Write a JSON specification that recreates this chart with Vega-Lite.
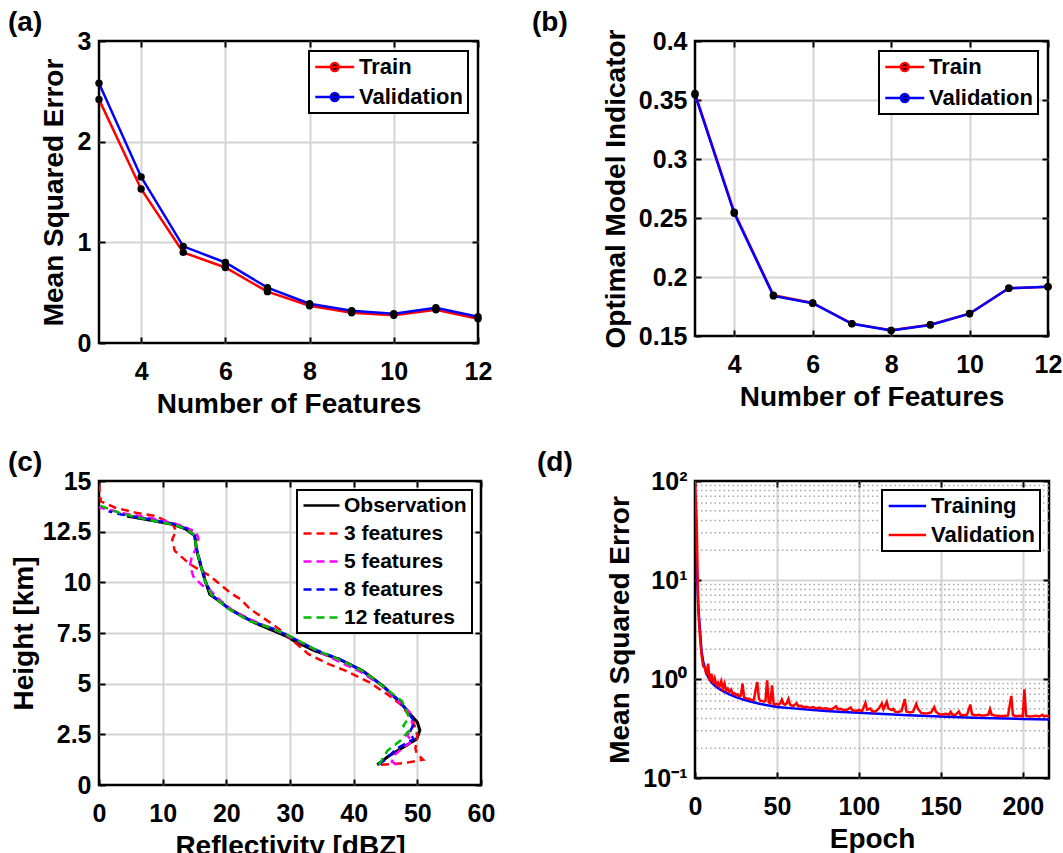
{
  "$schema": "https://vega.github.io/schema/vega-lite/v6.json",
  "background": "#ffffff",
  "padding": {"left": 6, "top": 7, "right": 0, "bottom": 0},
  "columns": 2,
  "bounds": "flush",
  "spacing": {"row": 138, "column": 214},
  "resolve": {
    "scale": {"x": "independent", "y": "independent", "color": "independent", "strokeDash": "independent"},
    "legend": {"color": "independent", "strokeDash": "independent"}
  },
  "datasets": {
    "selection": [
      {"n": 3, "set": "Train", "mse": 2.42}, {"n": 4, "set": "Train", "mse": 1.53}, {"n": 5, "set": "Train", "mse": 0.9},
      {"n": 6, "set": "Train", "mse": 0.75}, {"n": 7, "set": "Train", "mse": 0.51}, {"n": 8, "set": "Train", "mse": 0.37},
      {"n": 9, "set": "Train", "mse": 0.3}, {"n": 10, "set": "Train", "mse": 0.275}, {"n": 11, "set": "Train", "mse": 0.33},
      {"n": 12, "set": "Train", "mse": 0.24},
      {"n": 3, "set": "Validation", "mse": 2.58}, {"n": 4, "set": "Validation", "mse": 1.65}, {"n": 5, "set": "Validation", "mse": 0.96},
      {"n": 6, "set": "Validation", "mse": 0.8}, {"n": 7, "set": "Validation", "mse": 0.55}, {"n": 8, "set": "Validation", "mse": 0.39},
      {"n": 9, "set": "Validation", "mse": 0.32}, {"n": 10, "set": "Validation", "mse": 0.29}, {"n": 11, "set": "Validation", "mse": 0.35},
      {"n": 12, "set": "Validation", "mse": 0.26}
    ],
    "indicator": [
      {"n": 3, "set": "Train", "omi": 0.3555}, {"n": 4, "set": "Train", "omi": 0.255}, {"n": 5, "set": "Train", "omi": 0.1845},
      {"n": 6, "set": "Train", "omi": 0.178}, {"n": 7, "set": "Train", "omi": 0.1605}, {"n": 8, "set": "Train", "omi": 0.1548},
      {"n": 9, "set": "Train", "omi": 0.1595}, {"n": 10, "set": "Train", "omi": 0.169}, {"n": 11, "set": "Train", "omi": 0.1905},
      {"n": 12, "set": "Train", "omi": 0.1918},
      {"n": 3, "set": "Validation", "omi": 0.3545}, {"n": 4, "set": "Validation", "omi": 0.254}, {"n": 5, "set": "Validation", "omi": 0.184},
      {"n": 6, "set": "Validation", "omi": 0.1778}, {"n": 7, "set": "Validation", "omi": 0.1603}, {"n": 8, "set": "Validation", "omi": 0.1546},
      {"n": 9, "set": "Validation", "omi": 0.1594}, {"n": 10, "set": "Validation", "omi": 0.1689}, {"n": 11, "set": "Validation", "omi": 0.1905},
      {"n": 12, "set": "Validation", "omi": 0.1917}
    ],
    "profiles": [
      {"model": "Observation", "dbz": 43.7, "h": 1.0}, {"model": "Observation", "dbz": 45.6, "h": 1.45}, {"model": "Observation", "dbz": 47.8, "h": 1.86},
      {"model": "Observation", "dbz": 49.9, "h": 2.27}, {"model": "Observation", "dbz": 50.4, "h": 2.7}, {"model": "Observation", "dbz": 50.0, "h": 3.1},
      {"model": "Observation", "dbz": 49.1, "h": 3.42}, {"model": "Observation", "dbz": 47.3, "h": 4.07}, {"model": "Observation", "dbz": 44.6, "h": 4.89},
      {"model": "Observation", "dbz": 41.4, "h": 5.64}, {"model": "Observation", "dbz": 37.7, "h": 6.21}, {"model": "Observation", "dbz": 33.9, "h": 6.62},
      {"model": "Observation", "dbz": 30.7, "h": 7.1}, {"model": "Observation", "dbz": 29.7, "h": 7.3}, {"model": "Observation", "dbz": 28.1, "h": 7.52},
      {"model": "Observation", "dbz": 24.4, "h": 8.01}, {"model": "Observation", "dbz": 20.6, "h": 8.67}, {"model": "Observation", "dbz": 18.5, "h": 9.16},
      {"model": "Observation", "dbz": 17.4, "h": 9.41}, {"model": "Observation", "dbz": 16.6, "h": 10.15}, {"model": "Observation", "dbz": 15.85, "h": 10.97},
      {"model": "Observation", "dbz": 15.3, "h": 11.63}, {"model": "Observation", "dbz": 15.05, "h": 12.29}, {"model": "Observation", "dbz": 13.7, "h": 12.62},
      {"model": "Observation", "dbz": 11.6, "h": 12.86}, {"model": "Observation", "dbz": 7.3, "h": 13.11}, {"model": "Observation", "dbz": 4.4, "h": 13.27},

      {"model": "3 features", "dbz": 44.3, "h": 1.0}, {"model": "3 features", "dbz": 46.2, "h": 1.03}, {"model": "3 features", "dbz": 48.3, "h": 1.1},
      {"model": "3 features", "dbz": 50.9, "h": 1.25}, {"model": "3 features", "dbz": 49.9, "h": 1.55}, {"model": "3 features", "dbz": 49.7, "h": 1.8},
      {"model": "3 features", "dbz": 49.9, "h": 2.25}, {"model": "3 features", "dbz": 50.0, "h": 2.45}, {"model": "3 features", "dbz": 49.4, "h": 3.1},
      {"model": "3 features", "dbz": 48.3, "h": 3.6}, {"model": "3 features", "dbz": 47.3, "h": 4.0}, {"model": "3 features", "dbz": 45.6, "h": 4.4},
      {"model": "3 features", "dbz": 42.5, "h": 5.06}, {"model": "3 features", "dbz": 38.7, "h": 5.64}, {"model": "3 features", "dbz": 36.1, "h": 5.96},
      {"model": "3 features", "dbz": 32.9, "h": 6.46}, {"model": "3 features", "dbz": 30.8, "h": 7.03}, {"model": "3 features", "dbz": 29.3, "h": 7.45},
      {"model": "3 features", "dbz": 27.4, "h": 7.9}, {"model": "3 features", "dbz": 25.3, "h": 8.35}, {"model": "3 features", "dbz": 23.8, "h": 8.67},
      {"model": "3 features", "dbz": 22.2, "h": 9.17}, {"model": "3 features", "dbz": 20.6, "h": 9.49}, {"model": "3 features", "dbz": 17.4, "h": 10.32},
      {"model": "3 features", "dbz": 14.3, "h": 10.89}, {"model": "3 features", "dbz": 11.9, "h": 11.55}, {"model": "3 features", "dbz": 11.5, "h": 12.12},
      {"model": "3 features", "dbz": 12.1, "h": 12.53}, {"model": "3 features", "dbz": 11.6, "h": 12.86}, {"model": "3 features", "dbz": 8.9, "h": 13.27},
      {"model": "3 features", "dbz": 5.75, "h": 13.44}, {"model": "3 features", "dbz": 2.55, "h": 13.68}, {"model": "3 features", "dbz": 0.3, "h": 14.0},
      {"model": "3 features", "dbz": 0.1, "h": 14.4}, {"model": "3 features", "dbz": 0.0, "h": 15.0},

      {"model": "5 features", "dbz": 46.8, "h": 1.0}, {"model": "5 features", "dbz": 46.0, "h": 1.15}, {"model": "5 features", "dbz": 46.5, "h": 1.5},
      {"model": "5 features", "dbz": 48.0, "h": 1.9}, {"model": "5 features", "dbz": 49.2, "h": 2.15}, {"model": "5 features", "dbz": 48.4, "h": 2.45},
      {"model": "5 features", "dbz": 49.3, "h": 2.9}, {"model": "5 features", "dbz": 48.8, "h": 3.6}, {"model": "5 features", "dbz": 46.8, "h": 4.2},
      {"model": "5 features", "dbz": 44.2, "h": 4.95}, {"model": "5 features", "dbz": 41.0, "h": 5.6}, {"model": "5 features", "dbz": 37.6, "h": 6.1},
      {"model": "5 features", "dbz": 33.8, "h": 6.7}, {"model": "5 features", "dbz": 30.0, "h": 7.3}, {"model": "5 features", "dbz": 27.3, "h": 7.7},
      {"model": "5 features", "dbz": 24.3, "h": 8.1}, {"model": "5 features", "dbz": 21.0, "h": 8.6}, {"model": "5 features", "dbz": 18.7, "h": 9.2},
      {"model": "5 features", "dbz": 17.5, "h": 9.6}, {"model": "5 features", "dbz": 16.2, "h": 9.85}, {"model": "5 features", "dbz": 14.8, "h": 10.3},
      {"model": "5 features", "dbz": 14.3, "h": 10.85}, {"model": "5 features", "dbz": 14.6, "h": 11.3}, {"model": "5 features", "dbz": 15.5, "h": 11.8},
      {"model": "5 features", "dbz": 15.6, "h": 12.2}, {"model": "5 features", "dbz": 15.2, "h": 12.5}, {"model": "5 features", "dbz": 12.5, "h": 12.85},
      {"model": "5 features", "dbz": 8.5, "h": 13.15}, {"model": "5 features", "dbz": 4.0, "h": 13.4}, {"model": "5 features", "dbz": 0.0, "h": 13.7},

      {"model": "8 features", "dbz": 43.9, "h": 1.0}, {"model": "8 features", "dbz": 45.1, "h": 1.28}, {"model": "8 features", "dbz": 46.7, "h": 1.78},
      {"model": "8 features", "dbz": 49.4, "h": 2.27}, {"model": "8 features", "dbz": 48.8, "h": 2.6}, {"model": "8 features", "dbz": 49.6, "h": 3.09},
      {"model": "8 features", "dbz": 48.2, "h": 3.75}, {"model": "8 features", "dbz": 46.7, "h": 4.3}, {"model": "8 features", "dbz": 44.3, "h": 4.95},
      {"model": "8 features", "dbz": 41.2, "h": 5.65}, {"model": "8 features", "dbz": 37.9, "h": 6.2}, {"model": "8 features", "dbz": 34.2, "h": 6.65},
      {"model": "8 features", "dbz": 30.2, "h": 7.3}, {"model": "8 features", "dbz": 27.5, "h": 7.7}, {"model": "8 features", "dbz": 24.2, "h": 8.05},
      {"model": "8 features", "dbz": 20.8, "h": 8.6}, {"model": "8 features", "dbz": 18.0, "h": 9.3}, {"model": "8 features", "dbz": 16.9, "h": 9.9},
      {"model": "8 features", "dbz": 16.0, "h": 10.9}, {"model": "8 features", "dbz": 15.3, "h": 11.7}, {"model": "8 features", "dbz": 15.0, "h": 12.3},
      {"model": "8 features", "dbz": 13.8, "h": 12.65}, {"model": "8 features", "dbz": 11.5, "h": 12.9}, {"model": "8 features", "dbz": 7.2, "h": 13.15},
      {"model": "8 features", "dbz": 3.5, "h": 13.35}, {"model": "8 features", "dbz": 1.5, "h": 13.5},

      {"model": "12 features", "dbz": 43.9, "h": 1.0}, {"model": "12 features", "dbz": 44.2, "h": 1.12}, {"model": "12 features", "dbz": 45.3, "h": 1.69},
      {"model": "12 features", "dbz": 47.3, "h": 2.18}, {"model": "12 features", "dbz": 48.7, "h": 2.68}, {"model": "12 features", "dbz": 47.8, "h": 2.92},
      {"model": "12 features", "dbz": 48.7, "h": 3.34}, {"model": "12 features", "dbz": 47.6, "h": 4.14}, {"model": "12 features", "dbz": 44.9, "h": 4.8},
      {"model": "12 features", "dbz": 41.6, "h": 5.6}, {"model": "12 features", "dbz": 38.0, "h": 6.15}, {"model": "12 features", "dbz": 34.2, "h": 6.65},
      {"model": "12 features", "dbz": 30.0, "h": 7.35}, {"model": "12 features", "dbz": 27.0, "h": 7.75}, {"model": "12 features", "dbz": 23.6, "h": 8.1},
      {"model": "12 features", "dbz": 20.3, "h": 8.7}, {"model": "12 features", "dbz": 17.6, "h": 9.4}, {"model": "12 features", "dbz": 16.6, "h": 10.1},
      {"model": "12 features", "dbz": 15.9, "h": 10.9}, {"model": "12 features", "dbz": 15.3, "h": 11.7}, {"model": "12 features", "dbz": 15.0, "h": 12.3},
      {"model": "12 features", "dbz": 13.9, "h": 12.6}, {"model": "12 features", "dbz": 11.7, "h": 12.85}, {"model": "12 features", "dbz": 7.5, "h": 13.1},
      {"model": "12 features", "dbz": 3.5, "h": 13.4}, {"model": "12 features", "dbz": 0.0, "h": 13.8}
    ],
    "history": [
      {"epoch": 0, "curve": "Training", "mse": 60}, {"epoch": 1, "curve": "Training", "mse": 14}, {"epoch": 2, "curve": "Training", "mse": 5.5},
      {"epoch": 3, "curve": "Training", "mse": 3.2}, {"epoch": 4, "curve": "Training", "mse": 1.9}, {"epoch": 5, "curve": "Training", "mse": 1.5},
      {"epoch": 6, "curve": "Training", "mse": 1.3}, {"epoch": 7, "curve": "Training", "mse": 1.15}, {"epoch": 8, "curve": "Training", "mse": 1.05},
      {"epoch": 10, "curve": "Training", "mse": 0.93}, {"epoch": 12, "curve": "Training", "mse": 0.86}, {"epoch": 15, "curve": "Training", "mse": 0.79},
      {"epoch": 18, "curve": "Training", "mse": 0.74}, {"epoch": 21, "curve": "Training", "mse": 0.7}, {"epoch": 25, "curve": "Training", "mse": 0.655},
      {"epoch": 30, "curve": "Training", "mse": 0.615}, {"epoch": 35, "curve": "Training", "mse": 0.585}, {"epoch": 40, "curve": "Training", "mse": 0.56},
      {"epoch": 45, "curve": "Training", "mse": 0.54}, {"epoch": 50, "curve": "Training", "mse": 0.522}, {"epoch": 60, "curve": "Training", "mse": 0.505},
      {"epoch": 70, "curve": "Training", "mse": 0.49}, {"epoch": 80, "curve": "Training", "mse": 0.476}, {"epoch": 90, "curve": "Training", "mse": 0.465},
      {"epoch": 100, "curve": "Training", "mse": 0.455}, {"epoch": 115, "curve": "Training", "mse": 0.443}, {"epoch": 130, "curve": "Training", "mse": 0.431},
      {"epoch": 150, "curve": "Training", "mse": 0.417}, {"epoch": 170, "curve": "Training", "mse": 0.407}, {"epoch": 190, "curve": "Training", "mse": 0.399},
      {"epoch": 200, "curve": "Training", "mse": 0.395}, {"epoch": 216, "curve": "Training", "mse": 0.39},

      {"epoch": 0, "curve": "Validation", "mse": 100}, {"epoch": 1, "curve": "Validation", "mse": 40}, {"epoch": 2, "curve": "Validation", "mse": 5},
      {"epoch": 3, "curve": "Validation", "mse": 2.7}, {"epoch": 4, "curve": "Validation", "mse": 1.75}, {"epoch": 5, "curve": "Validation", "mse": 1.35},
      {"epoch": 6, "curve": "Validation", "mse": 1.3}, {"epoch": 7, "curve": "Validation", "mse": 1.1}, {"epoch": 8, "curve": "Validation", "mse": 1.43},
      {"epoch": 9, "curve": "Validation", "mse": 0.95}, {"epoch": 10, "curve": "Validation", "mse": 1.13}, {"epoch": 11, "curve": "Validation", "mse": 0.9},
      {"epoch": 12, "curve": "Validation", "mse": 1.02}, {"epoch": 13, "curve": "Validation", "mse": 0.87}, {"epoch": 14, "curve": "Validation", "mse": 0.92},
      {"epoch": 15, "curve": "Validation", "mse": 0.84}, {"epoch": 16, "curve": "Validation", "mse": 0.95}, {"epoch": 17, "curve": "Validation", "mse": 0.8},
      {"epoch": 18, "curve": "Validation", "mse": 0.9}, {"epoch": 19, "curve": "Validation", "mse": 0.76}, {"epoch": 20, "curve": "Validation", "mse": 0.8},
      {"epoch": 21, "curve": "Validation", "mse": 0.74}, {"epoch": 22, "curve": "Validation", "mse": 0.78}, {"epoch": 23, "curve": "Validation", "mse": 0.71},
      {"epoch": 24, "curve": "Validation", "mse": 0.72}, {"epoch": 25, "curve": "Validation", "mse": 0.69}, {"epoch": 26, "curve": "Validation", "mse": 0.7},
      {"epoch": 27, "curve": "Validation", "mse": 0.67}, {"epoch": 28, "curve": "Validation", "mse": 0.68}, {"epoch": 29, "curve": "Validation", "mse": 0.9},
      {"epoch": 30, "curve": "Validation", "mse": 0.65}, {"epoch": 31, "curve": "Validation", "mse": 0.64}, {"epoch": 32, "curve": "Validation", "mse": 0.63},
      {"epoch": 33, "curve": "Validation", "mse": 0.63}, {"epoch": 34, "curve": "Validation", "mse": 0.62}, {"epoch": 35, "curve": "Validation", "mse": 0.61},
      {"epoch": 36, "curve": "Validation", "mse": 0.62}, {"epoch": 37, "curve": "Validation", "mse": 0.78}, {"epoch": 38, "curve": "Validation", "mse": 0.93},
      {"epoch": 39, "curve": "Validation", "mse": 0.63}, {"epoch": 40, "curve": "Validation", "mse": 0.6}, {"epoch": 41, "curve": "Validation", "mse": 0.6},
      {"epoch": 42, "curve": "Validation", "mse": 0.59}, {"epoch": 43, "curve": "Validation", "mse": 0.6}, {"epoch": 44, "curve": "Validation", "mse": 0.97},
      {"epoch": 45, "curve": "Validation", "mse": 0.58}, {"epoch": 46, "curve": "Validation", "mse": 0.57}, {"epoch": 47, "curve": "Validation", "mse": 0.86},
      {"epoch": 48, "curve": "Validation", "mse": 0.56}, {"epoch": 49, "curve": "Validation", "mse": 0.55}, {"epoch": 50, "curve": "Validation", "mse": 0.56},
      {"epoch": 51, "curve": "Validation", "mse": 0.55}, {"epoch": 52, "curve": "Validation", "mse": 0.57}, {"epoch": 53, "curve": "Validation", "mse": 0.62},
      {"epoch": 54, "curve": "Validation", "mse": 0.56}, {"epoch": 55, "curve": "Validation", "mse": 0.55}, {"epoch": 56, "curve": "Validation", "mse": 0.57},
      {"epoch": 57, "curve": "Validation", "mse": 0.63}, {"epoch": 58, "curve": "Validation", "mse": 0.55}, {"epoch": 59, "curve": "Validation", "mse": 0.54},
      {"epoch": 60, "curve": "Validation", "mse": 0.535}, {"epoch": 62, "curve": "Validation", "mse": 0.57}, {"epoch": 63, "curve": "Validation", "mse": 0.53},
      {"epoch": 65, "curve": "Validation", "mse": 0.535}, {"epoch": 66, "curve": "Validation", "mse": 0.52}, {"epoch": 68, "curve": "Validation", "mse": 0.525},
      {"epoch": 70, "curve": "Validation", "mse": 0.51}, {"epoch": 72, "curve": "Validation", "mse": 0.52}, {"epoch": 74, "curve": "Validation", "mse": 0.505},
      {"epoch": 76, "curve": "Validation", "mse": 0.515}, {"epoch": 78, "curve": "Validation", "mse": 0.5}, {"epoch": 80, "curve": "Validation", "mse": 0.505},
      {"epoch": 82, "curve": "Validation", "mse": 0.495}, {"epoch": 84, "curve": "Validation", "mse": 0.5}, {"epoch": 86, "curve": "Validation", "mse": 0.53},
      {"epoch": 87, "curve": "Validation", "mse": 0.495}, {"epoch": 89, "curve": "Validation", "mse": 0.5}, {"epoch": 91, "curve": "Validation", "mse": 0.485},
      {"epoch": 93, "curve": "Validation", "mse": 0.49}, {"epoch": 95, "curve": "Validation", "mse": 0.515}, {"epoch": 96, "curve": "Validation", "mse": 0.485},
      {"epoch": 98, "curve": "Validation", "mse": 0.475}, {"epoch": 100, "curve": "Validation", "mse": 0.485}, {"epoch": 102, "curve": "Validation", "mse": 0.475},
      {"epoch": 104, "curve": "Validation", "mse": 0.574}, {"epoch": 105, "curve": "Validation", "mse": 0.49}, {"epoch": 107, "curve": "Validation", "mse": 0.504},
      {"epoch": 108, "curve": "Validation", "mse": 0.475}, {"epoch": 110, "curve": "Validation", "mse": 0.468}, {"epoch": 112, "curve": "Validation", "mse": 0.5},
      {"epoch": 114, "curve": "Validation", "mse": 0.565}, {"epoch": 115, "curve": "Validation", "mse": 0.495}, {"epoch": 117, "curve": "Validation", "mse": 0.587},
      {"epoch": 118, "curve": "Validation", "mse": 0.505}, {"epoch": 120, "curve": "Validation", "mse": 0.485}, {"epoch": 121, "curve": "Validation", "mse": 0.5},
      {"epoch": 122, "curve": "Validation", "mse": 0.468}, {"epoch": 124, "curve": "Validation", "mse": 0.465}, {"epoch": 126, "curve": "Validation", "mse": 0.475},
      {"epoch": 128, "curve": "Validation", "mse": 0.625}, {"epoch": 129, "curve": "Validation", "mse": 0.468}, {"epoch": 131, "curve": "Validation", "mse": 0.458},
      {"epoch": 133, "curve": "Validation", "mse": 0.465}, {"epoch": 135, "curve": "Validation", "mse": 0.56}, {"epoch": 136, "curve": "Validation", "mse": 0.5},
      {"epoch": 138, "curve": "Validation", "mse": 0.455}, {"epoch": 140, "curve": "Validation", "mse": 0.448}, {"epoch": 142, "curve": "Validation", "mse": 0.45},
      {"epoch": 144, "curve": "Validation", "mse": 0.458}, {"epoch": 146, "curve": "Validation", "mse": 0.52}, {"epoch": 147, "curve": "Validation", "mse": 0.468},
      {"epoch": 149, "curve": "Validation", "mse": 0.44}, {"epoch": 151, "curve": "Validation", "mse": 0.438}, {"epoch": 153, "curve": "Validation", "mse": 0.445},
      {"epoch": 155, "curve": "Validation", "mse": 0.438}, {"epoch": 156, "curve": "Validation", "mse": 0.466}, {"epoch": 157, "curve": "Validation", "mse": 0.436},
      {"epoch": 159, "curve": "Validation", "mse": 0.435}, {"epoch": 161, "curve": "Validation", "mse": 0.47}, {"epoch": 162, "curve": "Validation", "mse": 0.435},
      {"epoch": 164, "curve": "Validation", "mse": 0.43}, {"epoch": 166, "curve": "Validation", "mse": 0.436}, {"epoch": 168, "curve": "Validation", "mse": 0.552},
      {"epoch": 169, "curve": "Validation", "mse": 0.44}, {"epoch": 171, "curve": "Validation", "mse": 0.428}, {"epoch": 173, "curve": "Validation", "mse": 0.435},
      {"epoch": 175, "curve": "Validation", "mse": 0.428}, {"epoch": 177, "curve": "Validation", "mse": 0.43}, {"epoch": 179, "curve": "Validation", "mse": 0.436},
      {"epoch": 180, "curve": "Validation", "mse": 0.496}, {"epoch": 181, "curve": "Validation", "mse": 0.436}, {"epoch": 183, "curve": "Validation", "mse": 0.428},
      {"epoch": 185, "curve": "Validation", "mse": 0.426}, {"epoch": 187, "curve": "Validation", "mse": 0.42}, {"epoch": 189, "curve": "Validation", "mse": 0.425},
      {"epoch": 191, "curve": "Validation", "mse": 0.428}, {"epoch": 193, "curve": "Validation", "mse": 0.675}, {"epoch": 194, "curve": "Validation", "mse": 0.43},
      {"epoch": 196, "curve": "Validation", "mse": 0.42}, {"epoch": 198, "curve": "Validation", "mse": 0.425}, {"epoch": 200, "curve": "Validation", "mse": 0.42},
      {"epoch": 201, "curve": "Validation", "mse": 0.787}, {"epoch": 202, "curve": "Validation", "mse": 0.425}, {"epoch": 204, "curve": "Validation", "mse": 0.418},
      {"epoch": 206, "curve": "Validation", "mse": 0.42}, {"epoch": 208, "curve": "Validation", "mse": 0.425}, {"epoch": 210, "curve": "Validation", "mse": 0.418},
      {"epoch": 212, "curve": "Validation", "mse": 0.435}, {"epoch": 213, "curve": "Validation", "mse": 0.418}, {"epoch": 214, "curve": "Validation", "mse": 0.425},
      {"epoch": 216, "curve": "Validation", "mse": 0.42}
    ],
    "minorGrid": [
      {"m": 0.2}, {"m": 0.3}, {"m": 0.4}, {"m": 0.5}, {"m": 0.6}, {"m": 0.7}, {"m": 0.8}, {"m": 0.9},
      {"m": 2}, {"m": 3}, {"m": 4}, {"m": 5}, {"m": 6}, {"m": 7}, {"m": 8}, {"m": 9},
      {"m": 20}, {"m": 30}, {"m": 40}, {"m": 50}, {"m": 60}, {"m": 70}, {"m": 80}, {"m": 90}
    ]
  },
  "concat": [
    {
      "title": {"text": "(a)", "dx": -91, "dy": 12},
      "width": 379,
      "height": 302,
      "data": {"name": "selection"},
      "resolve": {"axis": {"x": "independent", "y": "independent"}},
      "layer": [
        {
          "mark": {"type": "line", "strokeWidth": 2.5},
          "encoding": {
            "x": {"field": "n", "type": "quantitative", "scale": {"domain": [3, 12], "nice": false, "zero": false},
                  "axis": {"title": "Number of Features", "values": [4, 6, 8, 10, 12], "format": ".3~r",
                           "gridOpacity": {"condition": {"test": "datum.value >= 12", "value": 0}, "value": 1}}},
            "y": {"field": "mse", "type": "quantitative", "scale": {"domain": [0, 3], "nice": false},
                  "axis": {"title": "Mean Squared Error", "values": [0, 1, 2, 3], "format": ".3~r", "titlePadding": 9,
                           "gridOpacity": {"condition": {"test": "datum.value <= 0 || datum.value >= 3", "value": 0}, "value": 1}}},
            "color": {"field": "set", "type": "nominal",
                      "scale": {"domain": ["Train", "Validation"], "range": ["#ff0000", "#0000ff"]},
                      "legend": {"title": null, "symbolType": "M-1,0H3M1.4,0A0.4,0.4,0,1,1,0.6,0A0.4,0.4,0,1,1,1.4,0Z",
                                 "symbolSize": 380, "labelOffset": 23, "rowPadding": 8,
                                 "encode": {"symbols": {"update": {"fill": {"value": "#000000"}, "strokeWidth": {"value": 2.5}}}}}}
          }
        },
        {
          "mark": {"type": "point", "filled": true, "color": "#000000", "size": 55, "opacity": 1},
          "encoding": {
            "x": {"field": "n", "type": "quantitative",
                  "axis": {"orient": "top", "values": [4, 6, 8, 10, 12], "labels": false, "title": null, "grid": false}},
            "y": {"field": "mse", "type": "quantitative",
                  "axis": {"orient": "right", "values": [0, 1, 2, 3], "labels": false, "title": null, "grid": false}}
          }
        }
      ]
    },
    {
      "title": {"text": "(b)", "dx": -163, "dy": 12},
      "width": 353,
      "height": 295,
      "data": {"name": "indicator"},
      "resolve": {"axis": {"x": "independent", "y": "independent"}},
      "layer": [
        {
          "mark": {"type": "line", "strokeWidth": 2.5},
          "encoding": {
            "x": {"field": "n", "type": "quantitative", "scale": {"domain": [3, 12], "nice": false, "zero": false},
                  "axis": {"title": "Number of Features", "values": [4, 6, 8, 10, 12], "format": ".3~r",
                           "gridOpacity": {"condition": {"test": "datum.value >= 12", "value": 0}, "value": 1}}},
            "y": {"field": "omi", "type": "quantitative", "scale": {"domain": [0.15, 0.4], "nice": false, "zero": false},
                  "axis": {"title": "Optimal Model Indicator", "values": [0.15, 0.2, 0.25, 0.3, 0.35, 0.4], "format": ".3~r",
                           "gridOpacity": {"condition": {"test": "datum.value <= 0.15 || datum.value >= 0.4", "value": 0}, "value": 1}}},
            "color": {"field": "set", "type": "nominal",
                      "scale": {"domain": ["Train", "Validation"], "range": ["#ff0000", "#0000ff"]},
                      "legend": {"title": null, "symbolType": "M-1,0H3M1.4,0A0.4,0.4,0,1,1,0.6,0A0.4,0.4,0,1,1,1.4,0Z",
                                 "symbolSize": 380, "labelOffset": 23, "rowPadding": 9,
                                 "encode": {"symbols": {"update": {"fill": {"value": "#000000"}, "strokeWidth": {"value": 2.5}}}}}}
          }
        },
        {
          "mark": {"type": "point", "filled": true, "color": "#000000", "size": 55, "opacity": 1},
          "encoding": {
            "x": {"field": "n", "type": "quantitative",
                  "axis": {"orient": "top", "values": [4, 6, 8, 10, 12], "labels": false, "title": null, "grid": false}},
            "y": {"field": "omi", "type": "quantitative",
                  "axis": {"orient": "right", "values": [0.15, 0.2, 0.25, 0.3, 0.35, 0.4], "labels": false, "title": null, "grid": false}}
          }
        }
      ]
    },
    {
      "title": {"text": "(c)", "dx": -91, "dy": 12},
      "width": 382,
      "height": 304,
      "data": {"name": "profiles"},
      "resolve": {"axis": {"x": "independent", "y": "independent"}},
      "encoding": {
        "color": {"field": "model", "type": "nominal",
                  "scale": {"domain": ["Observation", "3 features", "5 features", "8 features", "12 features"],
                            "range": ["#000000", "#ff0000", "#ff00ff", "#0000ff", "#00bb00"]},
                  "legend": {"title": null, "symbolType": "M-1,0H3", "symbolSize": 324, "labelOffset": 21,
                             "rowPadding": 6, "labelFontSize": 21, "offset": 9, "symbolStrokeWidth": 2.5}},
        "strokeDash": {"field": "model", "type": "nominal",
                       "scale": {"domain": ["Observation", "3 features", "5 features", "8 features", "12 features"],
                                 "range": [[1, 0], [8, 5], [8, 5], [8, 5], [8, 5]]},
                       "legend": {"title": null, "symbolType": "M-1,0H3", "symbolSize": 324, "labelOffset": 21,
                                  "rowPadding": 6, "labelFontSize": 21, "offset": 9, "symbolStrokeWidth": 2.5}},
        "order": {"value": null}
      },
      "layer": [
        {
          "transform": [{"filter": "datum.model === 'Observation'"}],
          "mark": {"type": "line", "strokeWidth": 3, "clip": true},
          "encoding": {
            "x": {"field": "dbz", "type": "quantitative", "scale": {"domain": [0, 60], "nice": false},
                  "axis": {"title": "Reflectivity [dBZ]", "values": [0, 10, 20, 30, 40, 50, 60], "format": ".3~r",
                           "gridOpacity": {"condition": {"test": "datum.value <= 0 || datum.value >= 60", "value": 0}, "value": 1}}},
            "y": {"field": "h", "type": "quantitative", "scale": {"domain": [0, 15], "nice": false},
                  "axis": {"title": "Height [km]", "values": [0, 2.5, 5, 7.5, 10, 12.5, 15], "format": ".3~r", "titlePadding": 4,
                           "gridOpacity": {"condition": {"test": "datum.value <= 0 || datum.value >= 15", "value": 0}, "value": 1}}}
          }
        },
        {
          "transform": [{"filter": "datum.model !== 'Observation'"}],
          "mark": {"type": "line", "strokeWidth": 2.5, "clip": true},
          "encoding": {
            "x": {"field": "dbz", "type": "quantitative",
                  "axis": {"orient": "top", "values": [0, 10, 20, 30, 40, 50, 60], "labels": false, "title": null, "grid": false}},
            "y": {"field": "h", "type": "quantitative",
                  "axis": {"orient": "right", "values": [0, 2.5, 5, 7.5, 10, 12.5, 15], "labels": false, "title": null, "grid": false}}
          }
        }
      ]
    },
    {
      "title": {"text": "(d)", "dx": -158, "dy": 12},
      "width": 354,
      "height": 297,
      "resolve": {"axis": {"x": "independent", "y": "independent"}},
      "layer": [
        {
          "data": {"name": "minorGrid"},
          "mark": {"type": "rule", "color": "#a8a8a8", "strokeWidth": 1.5, "strokeDash": [1.5, 3]},
          "encoding": {
            "y": {"field": "m", "type": "quantitative", "scale": {"type": "log", "domain": [0.1, 100], "nice": false},
                  "axis": {"title": "Mean Squared Error", "orient": "left", "values": [0.1, 1, 10, 100],
                           "labelExpr": "datum.value >= 100 ? '10²' : datum.value >= 10 ? '10¹' : datum.value >= 1 ? '10⁰' : '10⁻¹'",
                           "gridOpacity": {"condition": {"test": "datum.value <= 0.1 || datum.value >= 100", "value": 0}, "value": 1}}}
          }
        },
        {
          "data": {"name": "history"},
          "mark": {"type": "line", "strokeWidth": 2.5, "clip": true},
          "encoding": {
            "x": {"field": "epoch", "type": "quantitative", "scale": {"domain": [0, 216], "nice": false},
                  "axis": {"title": "Epoch", "orient": "bottom", "values": [0, 50, 100, 150, 200], "format": ".3~r",
                           "gridOpacity": {"condition": {"test": "datum.value <= 0", "value": 0}, "value": 1}}},
            "y": {"field": "mse", "type": "quantitative", "scale": {"type": "log", "domain": [0.1, 100], "nice": false},
                  "axis": {"orient": "right", "values": [0.1, 1, 10, 100], "labels": false, "title": null, "grid": false}},
            "color": {"field": "curve", "type": "nominal",
                      "scale": {"domain": ["Training", "Validation"], "range": ["#0000ff", "#ff0000"]},
                      "legend": {"title": null, "symbolType": "M-1,0H3", "symbolSize": 350, "labelOffset": 22,
                                 "rowPadding": 7, "offset": 9, "symbolStrokeWidth": 2.5}}
          }
        },
        {
          "data": {"name": "history"},
          "mark": {"type": "point", "opacity": 0},
          "encoding": {
            "x": {"field": "epoch", "type": "quantitative",
                  "axis": {"orient": "top", "values": [0, 50, 100, 150, 200], "labels": false, "title": null, "grid": false}},
            "y": {"field": "mse", "type": "quantitative", "axis": null}
          }
        }
      ]
    }
  ],
  "config": {
    "font": "Liberation Sans",
    "view": {"stroke": "#000000", "strokeWidth": 2.5},
    "axis": {
      "labelFont": "Liberation Sans", "labelFontSize": 25, "labelFontWeight": "bold", "labelColor": "#000000",
      "titleFont": "Liberation Sans", "titleFontSize": 28, "titleFontWeight": "bold", "titleColor": "#000000",
      "domain": false, "grid": true, "gridColor": "#d4d4d4", "gridWidth": 2,
      "ticks": true, "tickSize": -6, "tickColor": "#000000", "tickWidth": 2,
      "labelFlush": false, "labelOverlap": false, "labelBound": false
    },
    "axisX": {"labelPadding": 22, "titlePadding": 6},
    "axisY": {"labelPadding": 14, "titlePadding": 8},
    "legend": {
      "orient": "top-right", "offset": 10, "padding": 5,
      "fillColor": "#ffffff", "strokeColor": "#000000", "strokeWidth": 2,
      "labelFont": "Liberation Sans", "labelFontSize": 22, "labelFontWeight": "bold", "labelColor": "#000000",
      "symbolStrokeWidth": 2.5
    },
    "title": {
      "anchor": "start", "frame": "group", "font": "Liberation Sans", "fontSize": 28, "fontWeight": "bold",
      "color": "#000000", "baseline": "alphabetic", "offset": 0
    }
  }
}
